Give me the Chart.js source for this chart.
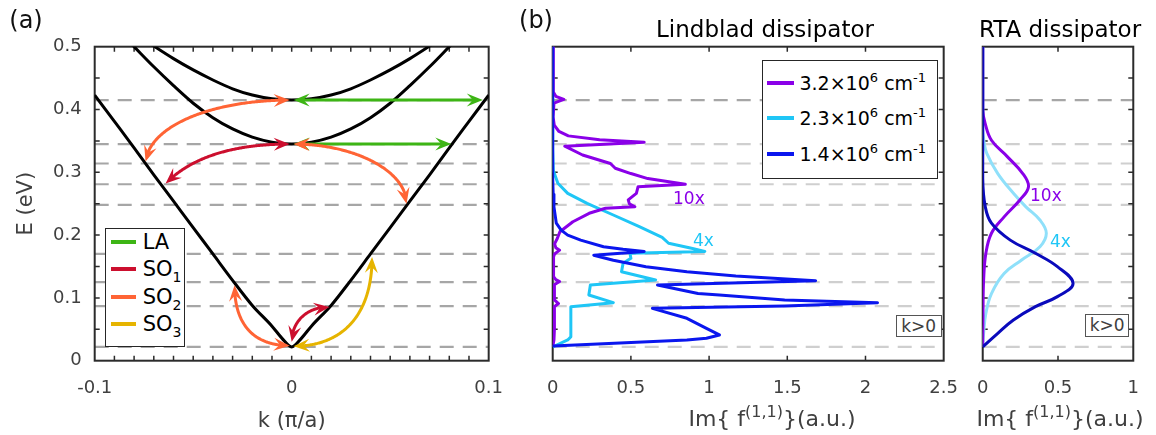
<!DOCTYPE html>
<html>
<head>
<meta charset="utf-8">
<script src="https://cdn.jsdelivr.net/npm/chart.js@4.4.0/dist/chart.umd.min.js"></script>
<style>
  body { margin: 0; background: #fff; width: 1156px; height: 435px; position: relative; overflow: hidden;
         font-family: 'DejaVu Sans', sans-serif; }
  canvas { position: absolute; top: 0; }
  .t { position: absolute; white-space: nowrap; line-height: 1; }
  .c { transform: translate(-50%, -50%); }
  .l { transform: translate(0, -50%); }
  .ax { font-size: 22px; color: #404040; }
  .sp { font-size: 16px; position: relative; top: -9px; }
  .sb { font-size: 14px; position: relative; top: 6px; }
  .sx { font-size: 13px; position: relative; top: -8px; }
  .box { position: absolute; box-sizing: border-box; background: #fff; border: 1.5px solid #262626; }
  .swatch { position: absolute; height: 4px; }
  .tag { position: absolute; box-sizing: border-box; border: 1px solid #555; background: #fff;
         font-size: 17px; color: #404040; display: flex; align-items: center; justify-content: center; }
</style>
</head>
<body>
<canvas id="bands" width="520" height="435" style="left:0"></canvas>
<canvas id="lindblad" width="455" height="435" style="left:520px"></canvas>
<canvas id="rta" width="196" height="435" style="left:960px"></canvas>

<div class="t c" style="left:26px;top:20px;font-size:24px;color:#111">(a)</div>
<div class="t c" style="left:536px;top:20px;font-size:24px;color:#111">(b)</div>
<div class="t c" style="left:765px;top:29px;font-size:23px;color:#000">Lindblad dissipator</div>
<div class="t c" style="left:1060px;top:29px;font-size:23px;color:#000">RTA dissipator</div>
<div class="t c ax" style="left:772px;top:419px">Im{ f<span class="sp">(1,1)</span>}(a.u.)</div>
<div class="t c ax" style="left:1060px;top:419px">Im{ f<span class="sp">(1,1)</span>}(a.u.)</div>

<!-- legend of the phonon modes -->
<div class="box" style="left:104.7px;top:227.7px;width:80.6px;height:119px">
  <div class="swatch" style="left:5.5px;top:11.8px;width:25px;background:#3db515"></div>
  <div class="t l" style="left:37px;top:13.8px;font-size:21px;color:#000">LA</div>
  <div class="swatch" style="left:5.5px;top:38.8px;width:25px;background:#cc0f2e"></div>
  <div class="t l" style="left:37px;top:40.8px;font-size:21px;color:#000">SO<span class="sb">1</span></div>
  <div class="swatch" style="left:5.5px;top:66.3px;width:25px;background:#ff6435"></div>
  <div class="t l" style="left:37px;top:68.3px;font-size:21px;color:#000">SO<span class="sb">2</span></div>
  <div class="swatch" style="left:5.5px;top:93.8px;width:25px;background:#e6b400"></div>
  <div class="t l" style="left:37px;top:95.8px;font-size:21px;color:#000">SO<span class="sb">3</span></div>
</div>

<!-- legend of the carrier densities -->
<div class="box" style="left:761.7px;top:60px;width:176px;height:119.3px">
  <div class="swatch" style="left:4.8px;top:19.8px;width:27px;background:#8a00e8"></div>
  <div class="t l" style="left:36.8px;top:21.8px;font-size:19px;color:#000">3.2×10<span class="sx">6</span> cm<span class="sx">-1</span></div>
  <div class="swatch" style="left:4.8px;top:54.8px;width:27px;background:#1fc6f6"></div>
  <div class="t l" style="left:36.8px;top:56.8px;font-size:19px;color:#000">2.3×10<span class="sx">6</span> cm<span class="sx">-1</span></div>
  <div class="swatch" style="left:4.8px;top:90.5px;width:27px;background:#0a16ee"></div>
  <div class="t l" style="left:36.8px;top:92.5px;font-size:19px;color:#000">1.4×10<span class="sx">6</span> cm<span class="sx">-1</span></div>
</div>

<div class="t l" style="left:673px;top:198px;font-size:17px;color:#8a00e8">10x</div>
<div class="t l" style="left:693px;top:240px;font-size:17px;color:#1fc6f6">4x</div>
<div class="t l" style="left:1030px;top:195px;font-size:17px;color:#8a00e8">10x</div>
<div class="t l" style="left:1050px;top:241px;font-size:17px;color:#1fc6f6">4x</div>
<div class="tag" style="left:895.7px;top:315px;width:46px;height:22.3px">k&gt;0</div>
<div class="tag" style="left:1085px;top:314px;width:44.3px;height:22.7px">k&gt;0</div>

<script>
// transition energies (eV), drawn as dashed levels in every panel
const levels = [0.415, 0.345, 0.314, 0.281, 0.248, 0.170, 0.125, 0.087, 0.022];

// subbands E(k), k in units of pi/a
const band1K = [-0.1, -0.09, -0.08, -0.07, -0.06, -0.05, -0.04, -0.03, -0.02, -0.01, -0.005, 0,
                0.005, 0.01, 0.02, 0.03, 0.04, 0.05, 0.06, 0.07, 0.08, 0.09, 0.1];
const band1E = [0.423, 0.381, 0.339, 0.296, 0.254, 0.212, 0.170, 0.128, 0.088, 0.055, 0.036, 0.022,
                0.036, 0.055, 0.088, 0.128, 0.170, 0.212, 0.254, 0.296, 0.339, 0.381, 0.423];
const band2K = [-0.09, -0.08, -0.07, -0.06, -0.05, -0.04, -0.03, -0.02, -0.01, 0,
                0.01, 0.02, 0.03, 0.04, 0.05, 0.06, 0.07, 0.08, 0.09];
const band2E = [0.532, 0.5, 0.468, 0.438, 0.41, 0.387, 0.369, 0.356, 0.348, 0.345,
                0.348, 0.356, 0.369, 0.387, 0.41, 0.438, 0.468, 0.5, 0.532];
const band3K = [-0.08, -0.07, -0.06, -0.05, -0.04, -0.03, -0.02, -0.01, 0,
                0.01, 0.02, 0.03, 0.04, 0.05, 0.06, 0.07, 0.08];
const band3E = [0.522, 0.501, 0.481, 0.463, 0.447, 0.433, 0.423, 0.417, 0.415,
                0.417, 0.423, 0.433, 0.447, 0.463, 0.481, 0.501, 0.522];

// scattering paths: start, two bezier handles, end, each as [k, E]
const laPaths = [
  [[0.001, 0.415], [0.03, 0.415], [0.07, 0.415], [0.097, 0.415]],
  [[0.001, 0.345], [0.03, 0.345], [0.06, 0.345], [0.081, 0.345]]
];
const so1Paths = [
  [[-0.001, 0.345], [-0.0298, 0.345], [-0.0509, 0.324], [-0.064, 0.282]],
  [[0, 0.030], [0, 0.06], [0.007, 0.0857], [0.0192, 0.0857]]
];
const so2Paths = [
  [[-0.001, 0.415], [-0.04, 0.415], [-0.072, 0.375], [-0.0742, 0.317]],
  [[0.001, 0.345], [0.032, 0.345], [0.0583, 0.302], [0.0583, 0.25]],
  [[-0.001, 0.024], [-0.02, 0.024], [-0.029, 0.06], [-0.029, 0.12]]
];
const so3Paths = [
  [[0.001, 0.023], [0.025, 0.023], [0.0408, 0.07], [0.0408, 0.165]]
];

// Im f(1,1) against energy, Lindblad dissipator (3.2e6 scaled x10, 2.3e6 scaled x4)
const lind32E = [0.5, 0.44, 0.428, 0.421, 0.416, 0.41, 0.4, 0.388, 0.375, 0.365, 0.358, 0.352, 0.348, 0.3416,
                 0.3275, 0.314, 0.3064, 0.298, 0.29, 0.281, 0.277, 0.2665, 0.256, 0.25, 0.245, 0.2427, 0.2347,
                 0.2213, 0.2054, 0.195, 0.186, 0.18, 0.176, 0.17, 0.165, 0.15, 0.134, 0.129, 0.126, 0.121,
                 0.11, 0.097, 0.091, 0.086, 0.07, 0.05, 0.033, 0.022];
const lind32V = [0.002, 0.003, 0.005, 0.02, 0.071, 0.008, 0.003, 0.002, 0.01, 0.04, 0.1, 0.3, 0.585, 0.077,
                 0.191, 0.369, 0.4, 0.5, 0.608, 0.848, 0.546, 0.535, 0.483, 0.49, 0.525, 0.3375, 0.233,
                 0.129, 0.046, 0.03, 0.012, 0.02, 0.044, 0.012, 0.005, 0.006, 0.005, 0.02, 0.044, 0.01,
                 0.012, 0.01, 0.037, 0.01, 0.012, 0.01, 0.008, 0];
const lind23E = [0.5, 0.335, 0.303, 0.2825, 0.2665, 0.2506, 0.232, 0.2134, 0.1965, 0.187, 0.179, 0.174, 0.171,
                 0.163, 0.155, 0.1417, 0.1285, 0.1205, 0.1046, 0.0924, 0.086, 0.038, 0.033, 0.0234, 0.022];
const lind23V = [0, 0, 0.004, 0.033, 0.096, 0.22, 0.3875, 0.554, 0.7, 0.741, 0.8875, 0.9725, 0.494,
                 0.5, 0.45, 0.44, 0.658, 0.241, 0.231, 0.3875, 0.116, 0.116, 0.096, 0.0125, 0];
const lind14E = [0.5, 0.29, 0.265, 0.245, 0.219, 0.208, 0.2, 0.192, 0.1815, 0.1774, 0.174, 0.168, 0.16, 0.1497,
                 0.1417, 0.135, 0.1274, 0.1205, 0.107, 0.1046, 0.0967, 0.0924, 0.0871, 0.0834, 0.0675,
                 0.0516, 0.041, 0.0357, 0.033, 0.0234, 0.022];
const lind14V = [0, 0, 0.003, 0.008, 0.023, 0.054, 0.096, 0.179, 0.325, 0.45, 0.585, 0.2625, 0.3875, 0.596,
                 0.858, 1.171, 1.681, 0.67, 0.929, 1.066, 1.483, 2.077, 1.483, 0.6375, 0.858,
                 0.983, 1.066, 0.983, 0.858, 0.002, 0];

// same quantity with the relaxation-time dissipator
const rta32E = [0.5, 0.40, 0.378, 0.351, 0.325, 0.298, 0.277, 0.256, 0.229, 0.203, 0.171, 0.1285, 0.08, 0.022];
const rta32V = [0, 0, 0.016, 0.058, 0.163, 0.266, 0.304, 0.247, 0.142, 0.058, 0.021, 0.006, 0.002, 0];
const rta23E = [0.5, 0.37, 0.35, 0.33, 0.298, 0.2666, 0.245, 0.224, 0.203, 0.1815, 0.16, 0.139, 0.107, 0.0755, 0.0436, 0.022];
const rta23V = [0, 0, 0.008, 0.027, 0.1, 0.204, 0.287, 0.38, 0.4225, 0.38, 0.256, 0.142, 0.058, 0.021, 0.006, 0];
const rta14E = [0.5, 0.29, 0.245, 0.219, 0.192, 0.171, 0.1497, 0.123, 0.102, 0.086, 0.0648, 0.0436, 0.022];
const rta14V = [0, 0, 0.017, 0.058, 0.183, 0.35, 0.496, 0.6, 0.496, 0.35, 0.204, 0.1, 0];

const purple = '#8a00e8', cyan = '#1fc6f6', blue = '#0a16ee', paleCyan = '#8fe0fa', navy = '#0a0abc';
const modeColors = { la: '#3db515', so1: '#cc0f2e', so2: '#ff6435', so3: '#e6b400' };

Chart.defaults.font.family = "'DejaVu Sans', sans-serif";
Chart.defaults.color = '#404040';

function pts(xs, ys) { return xs.map((v, i) => ({ x: v, y: ys[i] })); }

// dashed energy levels behind the curves
const levelLines = {
  id: 'levelLines',
  beforeDatasetsDraw(chart, args, opts) {
    const { ctx, chartArea: a, scales: { y } } = chart;
    ctx.save();
    ctx.lineWidth = 2.2;
    ctx.setLineDash([14, 9]);
    levels.forEach((e, i) => {
      ctx.strokeStyle = i === 0 ? opts.first : opts.color;
      const py = y.getPixelForValue(e);
      ctx.beginPath();
      ctx.moveTo(a.left, py);
      ctx.lineTo(a.right, py);
      ctx.stroke();
    });
    ctx.restore();
  }
};

// closed box with inward ticks on all four sides
const axesBox = {
  id: 'axesBox',
  beforeDatasetsDraw(chart) {
    const { ctx, chartArea: a, scales: { x, y } } = chart;
    const len = 5;
    ctx.save();
    ctx.strokeStyle = '#2b2b2b';
    ctx.lineWidth = 1.5;
    ctx.beginPath();
    x.ticks.forEach(t => {
      const px = x.getPixelForValue(t.value);
      if (px <= a.left + 1 || px >= a.right - 1) return;
      ctx.moveTo(px, a.bottom); ctx.lineTo(px, a.bottom - len);
      ctx.moveTo(px, a.top); ctx.lineTo(px, a.top + len);
    });
    y.ticks.forEach(t => {
      const py = y.getPixelForValue(t.value);
      if (py <= a.top + 1 || py >= a.bottom - 1) return;
      ctx.moveTo(a.left, py); ctx.lineTo(a.left + len, py);
      ctx.moveTo(a.right, py); ctx.lineTo(a.right - len, py);
    });
    ctx.stroke();
    ctx.lineWidth = 2;
    ctx.strokeRect(a.left, a.top, a.right - a.left, a.bottom - a.top);
    ctx.restore();
  }
};

function bezierAt(p, t) {
  const m = 1 - t;
  const a = m * m * m, b = 3 * m * m * t, c = 3 * m * t * t, d = t * t * t;
  return { x: a * p[0].x + b * p[1].x + c * p[2].x + d * p[3].x,
           y: a * p[0].y + b * p[1].y + c * p[2].y + d * p[3].y };
}

function arrowHead(ctx, tip, from) {
  const dx = tip.x - from.x, dy = tip.y - from.y, d = Math.hypot(dx, dy) || 1;
  const ux = dx / d, uy = dy / d, L = 16, W = 6.5;
  ctx.beginPath();
  ctx.moveTo(tip.x, tip.y);
  ctx.lineTo(tip.x - L * ux - W * uy, tip.y - L * uy + W * ux);
  ctx.lineTo(tip.x - 0.62 * L * ux, tip.y - 0.62 * L * uy);
  ctx.lineTo(tip.x - L * ux + W * uy, tip.y - L * uy - W * ux);
  ctx.closePath();
  ctx.fill();
}

// double headed curved arrow along a cubic bezier given in pixels
function drawArrow(ctx, p, color) {
  const n = 150, s = [], cum = [0];
  for (let i = 0; i <= n; i++) s.push(bezierAt(p, i / n));
  for (let i = 1; i <= n; i++) cum.push(cum[i - 1] + Math.hypot(s[i].x - s[i - 1].x, s[i].y - s[i - 1].y));
  const total = cum[n];
  const at = d => s[Math.max(0, Math.min(n, cum.findIndex(c => c >= d)))];
  ctx.strokeStyle = color;
  ctx.fillStyle = color;
  ctx.lineWidth = 3;
  ctx.lineJoin = 'round';
  ctx.beginPath();
  let started = false;
  for (let i = 0; i <= n; i++) {
    if (cum[i] < 9 || cum[i] > total - 9) continue;
    if (!started) { ctx.moveTo(s[i].x, s[i].y); started = true; } else ctx.lineTo(s[i].x, s[i].y);
  }
  ctx.stroke();
  arrowHead(ctx, s[0], at(14));
  arrowHead(ctx, s[n], at(total - 14));
}

const phononArrows = {
  id: 'phononArrows',
  afterDatasetsDraw(chart) {
    const { ctx, scales: { x, y } } = chart;
    const sets = [[laPaths, modeColors.la], [so2Paths, modeColors.so2], [so1Paths, modeColors.so1], [so3Paths, modeColors.so3]];
    ctx.save();
    sets.forEach(([paths, color]) => {
      paths.forEach(path => {
        drawArrow(ctx, path.map(([k, e]) => ({ x: x.getPixelForValue(k), y: y.getPixelForValue(e) })), color);
      });
    });
    ctx.restore();
  }
};

const tickFont = { size: 18 };
const noGrid = { display: false, drawTicks: false };

function energyAxis(width, labelled) {
  return {
    min: 0, max: 0.5,
    afterFit: s => { s.width = width; },
    grid: noGrid, border: { display: false },
    ticks: {
      display: labelled, stepSize: 0.05, autoSkip: false, padding: 13, font: tickFont,
      callback: v => (Math.round(v * 100) % 10 === 0 ? String(Math.round(v * 10) / 10) : '')
    },
    title: { display: labelled, text: 'E (eV)', font: { size: 21 }, padding: { top: 14, bottom: 0 } }
  };
}

function responseAxis(max) {
  return {
    type: 'linear', min: 0, max: max,
    afterFit: s => { s.height = 74.3; },
    grid: noGrid, border: { display: false },
    ticks: { stepSize: 0.5, autoSkip: false, maxRotation: 0, padding: 17, font: tickFont,
             callback: v => String(v) }
  };
}

const baseOptions = {
  responsive: false,
  animation: false,
  devicePixelRatio: 1,
  elements: { point: { radius: 0 }, line: { borderWidth: 3, borderJoinStyle: 'round', fill: false } }
};

new Chart(document.getElementById('bands'), {
  type: 'line',
  data: {
    datasets: [
      { data: pts(band1K, band1E), borderColor: '#000', cubicInterpolationMode: 'monotone' },
      { data: pts(band2K, band2E), borderColor: '#000', cubicInterpolationMode: 'monotone' },
      { data: pts(band3K, band3E), borderColor: '#000', cubicInterpolationMode: 'monotone' }
    ]
  },
  options: {
    ...baseOptions,
    layout: { padding: { left: 0, right: 26, top: 46.7, bottom: 0 } },
    scales: {
      x: {
        type: 'linear', min: -0.1, max: 0.1,
        afterFit: s => { s.height = 74.3; },
        grid: noGrid, border: { display: false },
        ticks: {
          stepSize: 0.01, autoSkip: false, maxRotation: 0, padding: 17, font: tickFont,
          callback: v => (Math.round(v * 100) % 10 === 0 ? String(Math.round(v * 10) / 10) : '')
        },
        title: { display: true, text: 'k (π/a)', font: { size: 21 }, padding: { top: 0, bottom: 1 } }
      },
      y: energyAxis(94.7, true)
    },
    plugins: {
      legend: { display: false }, tooltip: { enabled: false },
      levelLines: { first: '#a6a6a6', color: '#a6a6a6' }
    }
  },
  plugins: [levelLines, axesBox, phononArrows]
});

new Chart(document.getElementById('lindblad'), {
  type: 'line',
  data: {
    datasets: [
      { data: pts(lind14V, lind14E), borderColor: blue },
      { data: pts(lind32V, lind32E), borderColor: purple },
      { data: pts(lind23V, lind23E), borderColor: cyan }
    ]
  },
  options: {
    ...baseOptions,
    layout: { padding: { left: 0, right: 23, top: 46.7, bottom: 0 } },
    scales: { x: responseAxis(2.5), y: energyAxis(32.7, false) },
    plugins: {
      legend: { display: false }, tooltip: { enabled: false },
      levelLines: { first: '#a6a6a6', color: '#cfcfcf' }
    }
  },
  plugins: [levelLines, axesBox]
});

new Chart(document.getElementById('rta'), {
  type: 'line',
  data: {
    datasets: [
      { data: pts(rta14V, rta14E), borderColor: navy, tension: 0.4 },
      { data: pts(rta32V, rta32E), borderColor: purple, tension: 0.4 },
      { data: pts(rta23V, rta23E), borderColor: paleCyan, tension: 0.4 }
    ]
  },
  options: {
    ...baseOptions,
    layout: { padding: { left: 0, right: 16, top: 46.7, bottom: 0 } },
    scales: { x: responseAxis(1), y: energyAxis(20.7, false) },
    plugins: {
      legend: { display: false }, tooltip: { enabled: false },
      levelLines: { first: '#a6a6a6', color: '#cfcfcf' }
    }
  },
  plugins: [levelLines, axesBox]
});
</script>
</body>
</html>
